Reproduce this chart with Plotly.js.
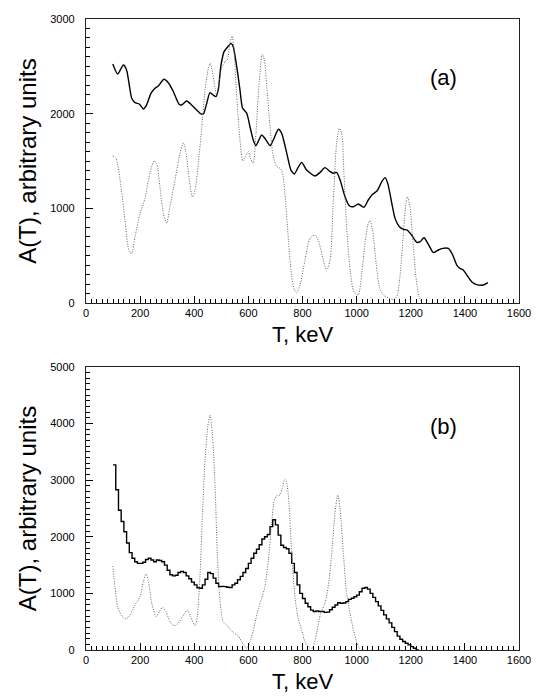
<!DOCTYPE html>
<html>
<head>
<meta charset="utf-8">
<script src="https://cdn.plot.ly/plotly-3.0.1.min.js"></script>
<style>html,body{margin:0;padding:0;background:#fff;}#chart{width:539px;height:697px;}</style>
</head>
<body>
<div id="chart"></div>
<script>
// ---- Panel (a): solid curve ----
const aSolidT = [99,117,138,150,169,181,197,212,224,240,255,267,288,304,323,344,353,372,390,409,424,434,446,458,470,480,489,498,510,524,536,544,557,569,578,594,606,618,628,649,661,680,692,711,723,742,757,770,782,797,815,846,865,883,902,914,926,939,957,973,988,1006,1027,1043,1059,1076,1093,1105,1115,1130,1142,1158,1173,1187,1203,1222,1235,1249,1265,1284,1302,1318,1339,1355,1370,1382,1394,1407,1425,1441,1468,1485];
const aSolidA = [2525,2419,2514,2461,2162,2116,2102,2049,2092,2215,2268,2292,2363,2327,2232,2099,2092,2134,2092,2039,1997,1997,2109,2222,2197,2180,2257,2496,2655,2708,2743,2708,2496,2250,2063,2004,1862,1722,1662,1775,1740,1662,1722,1835,1792,1581,1405,1363,1423,1486,1405,1342,1380,1430,1387,1370,1380,1299,1123,1028,1017,1046,1011,1088,1148,1186,1281,1324,1264,1053,894,806,778,771,718,641,648,690,620,532,560,577,577,507,401,366,349,296,225,197,190,215];
// ---- Panel (a): dotted curve ----
const aDotT = [99,111,126,144,160,169,181,200,218,236,251,261,273,286,298,310,329,347,360,369,382,393,403,415,428,440,452,459,467,477,483,491,501,514,522,532,540,547,557,569,579,588,600,608,618,628,637,646,651,659,668,680,692,705,717,725,735,748,760,770,778,791,809,828,846,858,877,889,902,914,926,936,945,953,963,976,990,1006,1019,1031,1043,1049,1059,1072,1084,1098,1117,1135,1148,1160,1173,1182,1188,1197,1207,1219,1231,1240];
const aDotA = [1553,1528,1299,877,542,525,700,947,1106,1370,1500,1475,1229,947,842,1017,1299,1581,1693,1598,1299,1117,1194,1475,1862,2250,2479,2532,2444,2268,2197,2320,2479,2549,2567,2743,2820,2673,2180,1722,1500,1546,1598,1528,1475,1792,2215,2532,2630,2567,2285,1862,1546,1440,1423,1387,1158,665,278,137,109,190,450,683,718,665,454,341,454,1088,1687,1845,1792,1370,806,349,119,85,314,630,842,869,771,419,172,85,56,35,67,278,736,1053,1123,1017,690,278,67,14];
// ---- Panel (b): histogram (bin left edges, keV) ----
const bHistT = [100,110,120,130,140,150,160,170,180,190,200,210,220,230,240,250,260,270,280,290,300,310,320,330,340,350,360,370,380,390,400,410,420,430,440,450,460,470,480,490,500,510,520,530,540,550,560,570,580,590,600,610,620,630,640,650,660,670,680,690,700,710,720,730,740,750,760,770,780,790,800,810,820,830,840,850,860,870,880,890,900,910,920,930,940,950,960,970,980,990,1000,1010,1020,1030,1040,1050,1060,1070,1080,1090,1100,1110,1120,1130,1140,1150,1160,1170,1180,1190,1200,1210,1220,1230];
const bHistA = [3270,2830,2470,2270,2090,1890,1720,1620,1560,1530,1530,1550,1600,1620,1590,1560,1590,1580,1560,1500,1410,1330,1310,1320,1370,1390,1370,1310,1260,1200,1150,1100,1090,1150,1250,1370,1350,1270,1180,1120,1125,1120,1110,1105,1150,1180,1240,1300,1370,1440,1530,1620,1710,1780,1860,1960,2000,2040,2180,2300,2210,2030,1850,1810,1790,1710,1530,1370,1150,1000,910,825,765,705,680,690,680,680,665,670,710,755,795,835,825,830,855,895,915,940,970,1030,1090,1105,1075,1000,930,855,780,700,620,550,480,400,325,245,190,150,120,90,60,30,0,0];
// ---- Panel (b): dotted curve ----
const bDotT = [99,107,117,132,148,163,181,200,212,222,230,243,259,271,283,296,310,326,341,360,374,387,403,411,421,431,440,450,458,467,477,486,495,507,526,544,563,579,594,600,612,624,637,649,661,674,686,696,705,717,725,735,741,750,760,772,784,797,809,828,838,852,867,883,895,908,920,930,939,951,963,976,988,1000,1010,1019];
const bDotA = [1484,1119,766,601,548,618,795,942,1207,1343,1237,825,589,677,754,677,501,430,472,618,707,589,424,589,1296,2473,3357,3946,4152,3828,2886,1590,883,501,412,306,247,118,29,71,236,471,736,913,1119,1590,2238,2650,2721,2739,2857,3021,2975,2592,1708,942,560,353,147,30,40,295,648,825,1119,1708,2415,2739,2473,1708,1002,648,353,147,30,0];

const xTitle = 'T, keV';
const yTitle = 'A(T), arbitrary units';
const panelLabels = ['(a)', '(b)'];

const solid = {color:'#000', width:1.4};
const dotted = {color:'#666', width:1, dash:'1px,1.5px'};

const traces = [
  {x:aSolidT, y:aSolidA, xaxis:'x', yaxis:'y', mode:'lines', line:Object.assign({shape:'spline', smoothing:0.6}, solid), showlegend:false, hoverinfo:'skip'},
  {x:aDotT, y:aDotA, xaxis:'x', yaxis:'y', mode:'lines', line:Object.assign({shape:'spline', smoothing:0.7}, dotted), showlegend:false, hoverinfo:'skip'},
  {x:bHistT, y:bHistA, xaxis:'x2', yaxis:'y2', mode:'lines', line:Object.assign({shape:'hv'}, solid), showlegend:false, hoverinfo:'skip'},
  {x:bDotT, y:bDotA, xaxis:'x2', yaxis:'y2', mode:'lines', line:Object.assign({shape:'spline', smoothing:0.7}, dotted), showlegend:false, hoverinfo:'skip'}
];

const tickFont = {family:'Liberation Sans, Arial, sans-serif', size:11, color:'#000'};
const titleFont = {family:'Liberation Sans, Arial, sans-serif', size:22, color:'#000'};

function xAxis(anchor){
  return {
    anchor:anchor, domain:[0,1], range:[0,1600], tickmode:'linear', tick0:0, dtick:200,
    ticks:'inside', ticklen:7, tickwidth:1, tickcolor:'#000',
    minor:{ticks:'inside', dtick:20, ticklen:4, tickwidth:1, tickcolor:'#000'},
    showline:true, mirror:true, linecolor:'#222', linewidth:1.2, showgrid:false, zeroline:false,
    tickfont:tickFont,
    title:{text:xTitle, font:titleFont, standoff:8}, automargin:false
  };
}
function yAxis(anchor, domain, max){
  return {
    anchor:anchor, domain:domain, range:[0,max], tickmode:'linear', tick0:0, dtick:1000,
    ticks:'inside', ticklen:7, tickwidth:1, tickcolor:'#000',
    minor:{ticks:'inside', dtick:100, ticklen:4, tickwidth:1, tickcolor:'#000'},
    showline:true, mirror:true, linecolor:'#222', linewidth:1.2, showgrid:false, zeroline:false,
    tickfont:tickFont, ticklabelstandoff:8,
    title:{text:yTitle, font:Object.assign({}, titleFont, {size:24}), standoff:6}, automargin:false
  };
}

const layout = {
  width:539, height:697,
  margin:{l:86, r:20, t:19, b:47},
  paper_bgcolor:'#fff', plot_bgcolor:'rgba(0,0,0,0)',
  showlegend:false,
  xaxis:xAxis('y'),
  yaxis:yAxis('x', [0.5499,1], 3000),
  xaxis2:xAxis('y2'),
  yaxis2:yAxis('x2', [0,0.4485], 5000),
  annotations:[
    {text:panelLabels[0], xref:'x', yref:'y', x:1320, y:2380, showarrow:false, font:{family:'Liberation Sans, Arial, sans-serif', size:22, color:'#000'}},
    {text:panelLabels[1], xref:'x2', yref:'y2', x:1320, y:3950, showarrow:false, font:{family:'Liberation Sans, Arial, sans-serif', size:22, color:'#000'}}
  ]
};

Plotly.newPlot('chart', traces, layout, {displayModeBar:false});
</script>
</body>
</html>
